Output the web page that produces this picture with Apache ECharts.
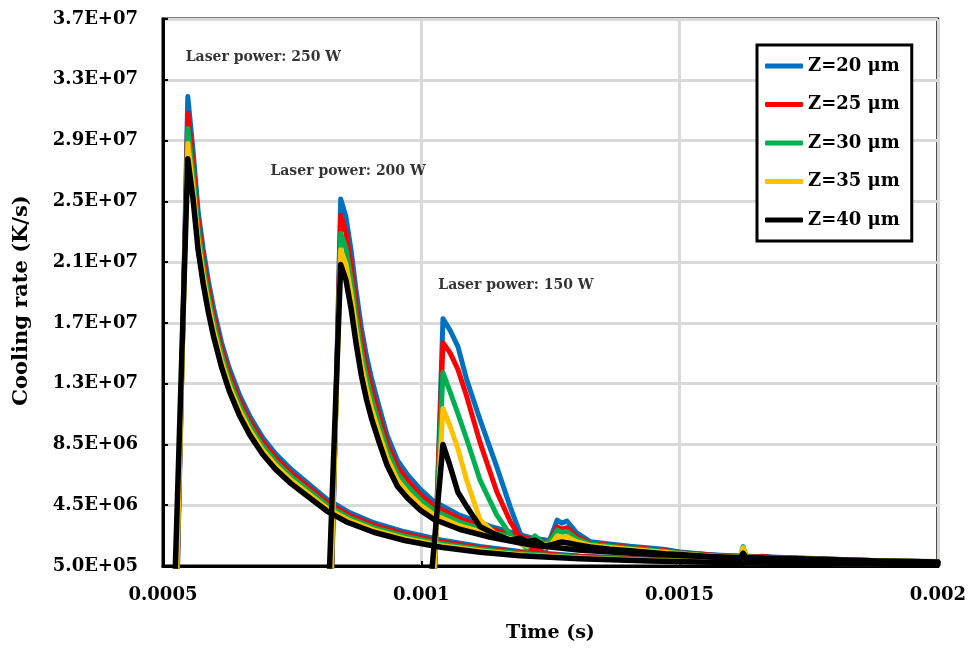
<!DOCTYPE html>
<html>
<head>
<meta charset="utf-8">
<script src="https://cdn.jsdelivr.net/npm/echarts@6/dist/echarts.min.js"></script>
<style>
html,body{margin:0;padding:0;background:#fff;}
#chart{width:969px;height:650px;}
</style>
</head>
<body>
<div id="chart"></div>
<script>
// ---- data ----
const names = ['Z=20 μm', 'Z=25 μm', 'Z=30 μm', 'Z=35 μm', 'Z=40 μm'];
const colors = ['#0070C0', '#FF0000', '#00B050', '#FFC000', '#000000'];

// rise start times (value 0 before each pulse), per Z
const rise250 = [0.000528, 0.0005275, 0.000527, 0.0005265, 0.0005235];
const rise200 = [0.000827, 0.0008265, 0.000826, 0.0008255, 0.000822];
const rise150 = [0.001026, 0.0010255, 0.001025, 0.0010245, 0.00102];

// Laser power 250 W
const t250 = [0.000548, 0.000558, 0.000568, 0.000578, 0.000588, 0.000598, 0.000613, 0.000628, 0.000648, 0.000668, 0.000693, 0.000718, 0.000748, 0.000778, 0.000818, 0.000858, 0.000908, 0.000968, 0.001038, 0.001114, 0.001191, 0.001307, 0.001443, 0.001636, 0.00183, 0.002];
const z20_250 = [3.14e7, 2.79e7, 2.386e7, 2.132e7, 1.923e7, 1.746e7, 1.525e7, 1.355e7, 1.176e7, 1.036e7, 8.95e6, 7.89e6, 6.87e6, 6.01e6, 4.88e6, 4.07e6, 3.35e6, 2.75e6, 2.21e6, 1.79e6, 1.46e6, 1.16e6, 9.5e5, 7.7e5, 6.7e5, 6.2e5];
const z25_250 = [3.03e7, 2.711e7, 2.322e7, 2.075e7, 1.872e7, 1.699e7, 1.485e7, 1.317e7, 1.142e7, 1.005e7, 8.67e6, 7.63e6, 6.63e6, 5.80e6, 4.68e6, 3.89e6, 3.19e6, 2.61e6, 2.09e6, 1.69e6, 1.39e6, 1.12e6, 9.2e5, 7.5e5, 6.6e5, 6.1e5];
const z30_250 = [2.93e7, 2.631e7, 2.258e7, 2.018e7, 1.82e7, 1.653e7, 1.444e7, 1.279e7, 1.109e7, 9.75e6, 8.40e6, 7.37e6, 6.39e6, 5.58e6, 4.49e6, 3.71e6, 3.03e6, 2.46e6, 1.97e6, 1.60e6, 1.32e6, 1.07e6, 8.9e5, 7.35e5, 6.5e5, 6.1e5];
const z35_250 = [2.83e7, 2.55e7, 2.194e7, 1.961e7, 1.769e7, 1.606e7, 1.403e7, 1.241e7, 1.075e7, 9.44e6, 8.12e6, 7.12e6, 6.16e6, 5.36e6, 4.29e6, 3.54e6, 2.88e6, 2.32e6, 1.85e6, 1.50e6, 1.24e6, 1.02e6, 8.6e5, 7.2e5, 6.4e5, 6.05e5];
const z40_250 = [2.73e7, 2.47e7, 2.13e7, 1.904e7, 1.717e7, 1.559e7, 1.362e7, 1.204e7, 1.041e7, 9.13e6, 7.85e6, 6.86e6, 5.92e6, 5.14e6, 4.1e6, 3.36e6, 2.72e6, 2.18e6, 1.73e6, 1.40e6, 1.17e6, 9.7e5, 8.3e5, 7.0e5, 6.3e5, 6.0e5];

// Laser power 200 W
const t200 = [0.000844, 0.000854, 0.000864, 0.000874, 0.000884, 0.000894, 0.000904, 0.000919, 0.000934, 0.000954, 0.000974, 0.000999, 0.001024, 0.001074, 0.001134, 0.00121, 0.001304, 0.001423, 0.001578, 0.001733, 0.001888, 0.002];
const z20_200 = [2.466e7, 2.351e7, 2.131e7, 1.859e7, 1.617e7, 1.431e7, 1.281e7, 1.091e7, 9.10e6, 7.45e6, 6.47e6, 5.52e6, 4.76e6, 3.85e6, 3.11e6, 2.38e6, 1.87e6, 1.50e6, 1.21e6, 1.03e6, 8.5e5, 7.9e5];
const z25_200 = [2.358e7, 2.247e7, 2.035e7, 1.772e7, 1.539e7, 1.36e7, 1.215e7, 1.033e7, 8.60e6, 7.02e6, 6.09e6, 5.18e6, 4.47e6, 3.62e6, 2.93e6, 2.26e6, 1.79e6, 1.45e6, 1.18e6, 1.01e6, 8.5e5, 7.8e5];
const z30_200 = [2.24e7, 2.143e7, 1.939e7, 1.685e7, 1.46e7, 1.288e7, 1.149e7, 9.75e6, 8.11e6, 6.59e6, 5.71e6, 4.83e6, 4.17e6, 3.39e6, 2.75e6, 2.14e6, 1.72e6, 1.40e6, 1.16e6, 1.0e6, 8.4e5, 7.8e5];
const z35_200 = [2.131e7, 2.039e7, 1.843e7, 1.598e7, 1.382e7, 1.217e7, 1.083e7, 9.17e6, 7.61e6, 6.16e6, 5.32e6, 4.49e6, 3.88e6, 3.15e6, 2.57e6, 2.02e6, 1.64e6, 1.35e6, 1.13e6, 9.8e5, 8.4e5, 7.7e5];
const z40_200 = [2.034e7, 1.935e7, 1.747e7, 1.511e7, 1.304e7, 1.145e7, 1.017e7, 8.59e6, 7.11e6, 5.73e6, 4.94e6, 4.15e6, 3.58e6, 2.92e6, 2.39e6, 1.9e6, 1.56e6, 1.30e6, 1.10e6, 9.7e5, 8.3e5, 7.7e5];

// Laser power 150 W
const t150 = [0.001042, 0.001056, 0.001071, 0.001088, 0.001114, 0.001146, 0.001172, 0.001191, 0.001205, 0.00122, 0.00124, 0.001253, 0.001263, 0.001272, 0.001282, 0.001301, 0.001327, 0.001365, 0.001404, 0.001437, 0.001472, 0.001501, 0.001565, 0.001617, 0.001623, 0.00163, 0.001661, 0.001694, 0.001758, 0.001869, 0.002];
const z20_150 = [1.678e7, 1.60e7, 1.494e7, 1.275e7, 1.011e7, 7.04e6, 4.41e6, 2.68e6, 1.9e6, 1.3e6, 1.5e6, 2.6e6, 3.52e6, 3.32e6, 3.46e6, 2.68e6, 2.1e6, 1.95e6, 1.8e6, 1.70e6, 1.58e6, 1.43e6, 1.23e6, 1.1e6, 1.15e6, 1.1e6, 1.15e6, 1.0e6, 9.0e5, 8.3e5, 7.7e5];
const z25_150 = [1.52e7, 1.451e7, 1.343e7, 1.165e7, 8.6e6, 5.4e6, 3.44e6, 2.4e6, 1.8e6, 1.5e6, 1.7e6, 2.4e6, 3.07e6, 2.92e6, 3.02e6, 2.43e6, 2.0e6, 1.85e6, 1.72e6, 1.62e6, 1.5e6, 1.38e6, 1.2e6, 1.08e6, 1.2e6, 1.08e6, 1.12e6, 9.8e5, 8.8e5, 8.2e5, 7.6e5];
const z30_150 = [1.323e7, 1.195e7, 1.052e7, 8.84e6, 6.13e6, 3.87e6, 2.58e6, 2.0e6, 1.7e6, 2.48e6, 1.9e6, 2.3e6, 2.87e6, 2.72e6, 2.77e6, 2.28e6, 1.95e6, 1.8e6, 1.66e6, 1.57e6, 1.45e6, 1.35e6, 1.15e6, 1.05e6, 1.78e6, 1.05e6, 1.05e6, 9.5e5, 8.6e5, 8.0e5, 7.5e5];
const z35_150 = [1.087e7, 9.68e6, 8.2e6, 6.13e6, 3.52e6, 2.53e6, 2.28e6, 2.0e6, 1.8e6, 2.1e6, 1.7e6, 2.0e6, 2.48e6, 2.38e6, 2.43e6, 2.1e6, 1.85e6, 1.72e6, 1.6e6, 1.5e6, 1.4e6, 1.3e6, 1.12e6, 1.02e6, 1.69e6, 1.02e6, 1.02e6, 9.3e5, 8.5e5, 7.9e5, 7.4e5];
const z40_150 = [8.5e6, 7.05e6, 5.35e6, 4.41e6, 3.08e6, 2.55e6, 2.2e6, 2.33e6, 2.1e6, 2.2e6, 1.8e6, 1.9e6, 2.0e6, 2.08e6, 2.03e6, 1.9e6, 1.75e6, 1.6e6, 1.5e6, 1.4e6, 1.3e6, 1.25e6, 1.1e6, 1.0e6, 1.35e6, 1.0e6, 9.8e5, 9.0e5, 8.3e5, 7.7e5, 7.2e5];

// annotations
const annotText = ['Laser power: 250 W', 'Laser power: 200 W', 'Laser power: 150 W'];
const annotT = [0.000543, 0.000707, 0.001032];
const annotV = [3.40e7, 2.65e7, 1.90e7];

// axis settings
const xMin = 0.0005, xMax = 0.002, xStep = 0.0005;
const yMin = 5.0e5, yMax = 3.65e7, yStep = 4.0e6;

// ---- build ----
const FONT = 'DejaVu Serif';
const powers = [
  { t: t250, rise: rise250, vals: [z20_250, z25_250, z30_250, z35_250, z40_250] },
  { t: t200, rise: rise200, vals: [z20_200, z25_200, z30_200, z35_200, z40_200] },
  { t: t150, rise: rise150, vals: [z20_150, z25_150, z30_150, z35_150, z40_150] }
];

function sci(v) {
  let e = Math.floor(Math.log10(v) + 1e-9);
  let m = Math.round(v / Math.pow(10, e) * 10 + 1e-6) / 10;
  if (m >= 10) { m = m / 10; e += 1; }
  return m.toFixed(1) + 'E+' + String(e).padStart(2, '0');
}

const series = [];
for (let i = 0; i < names.length; i++) {
  for (const p of powers) {
    const data = [[p.rise[i], 0]].concat(p.t.map((x, k) => [x, p.vals[i][k]]));
    series.push({
      type: 'line',
      name: names[i],
      data: data,
      symbol: 'none',
      showSymbol: false,
      clip: true,
      lineStyle: { color: colors[i], width: i === 4 ? 5.5 : 5, join: 'round', cap: 'round' },
      itemStyle: { color: colors[i] },
      animation: false
    });
  }
}
series.push({
  type: 'scatter',
  name: 'annot',
  data: annotT.map((x, k) => ({ value: [x, annotV[k]], label: { formatter: annotText[k] } })),
  symbol: 'circle',
  symbolSize: 1,
  itemStyle: { color: 'rgba(0,0,0,0)' },
  silent: true,
  animation: false,
  label: {
    show: true, position: 'right', distance: 0,
    color: '#000', fontFamily: FONT, fontWeight: 'bold', fontSize: 14,
    align: 'left', verticalAlign: 'middle'
  },
  z: 10
});

const chart = echarts.init(document.getElementById('chart'), null, { renderer: 'canvas' });
chart.setOption({
  backgroundColor: '#fff',
  animation: false,
  grid: { left: 163, right: 31, top: 19, bottom: 84, show: true, borderColor: '#000', borderWidth: 3, backgroundColor: '#fff', z: 0 },
  legend: {
    data: names,
    orient: 'vertical',
    left: 757, top: 45,
    padding: [11, 12, 11, 8],
    backgroundColor: '#fff',
    borderColor: '#000', borderWidth: 3,
    itemWidth: 38, itemHeight: 5, itemGap: 18.5,
    icon: 'roundRect',
    textStyle: { fontFamily: FONT, fontWeight: 'bold', fontSize: 18, color: '#000', lineHeight: 20 },
    z: 20
  },
  xAxis: {
    type: 'value', min: xMin, max: xMax, interval: xStep,
    name: 'Time (s)', nameLocation: 'middle', nameGap: 58,
    nameTextStyle: { fontFamily: FONT, fontWeight: 'bold', fontSize: 19, color: '#000' },
    axisLine: { show: true, lineStyle: { color: '#000', width: 3 } },
    axisTick: { show: true, inside: true, length: 5, lineStyle: { color: '#000', width: 2 } },
    axisLabel: { fontFamily: FONT, fontWeight: 'bold', fontSize: 18, color: '#000', margin: 20,
      formatter: v => String(+v.toFixed(4)) },
    splitLine: { show: true, lineStyle: { color: '#d9d9d9', width: 3 } }
  },
  yAxis: {
    type: 'value', min: yMin, max: yMax, interval: yStep,
    name: 'Cooling rate (K/s)', nameLocation: 'middle', nameGap: 131, nameRotate: 90,
    nameTextStyle: { fontFamily: FONT, fontWeight: 'bold', fontSize: 21, color: '#000', padding: [0, 16, 0, 0] },
    axisLine: { show: true, lineStyle: { color: '#000', width: 3 } },
    axisTick: { show: true, inside: true, length: 5, lineStyle: { color: '#000', width: 2 } },
    axisLabel: { fontFamily: FONT, fontWeight: 'bold', fontSize: 18, color: '#000', margin: 25,
      formatter: v => sci(v) },
    splitLine: { show: true, lineStyle: { color: '#d9d9d9', width: 3 } }
  },
  series: series
});
</script>
</body>
</html>
